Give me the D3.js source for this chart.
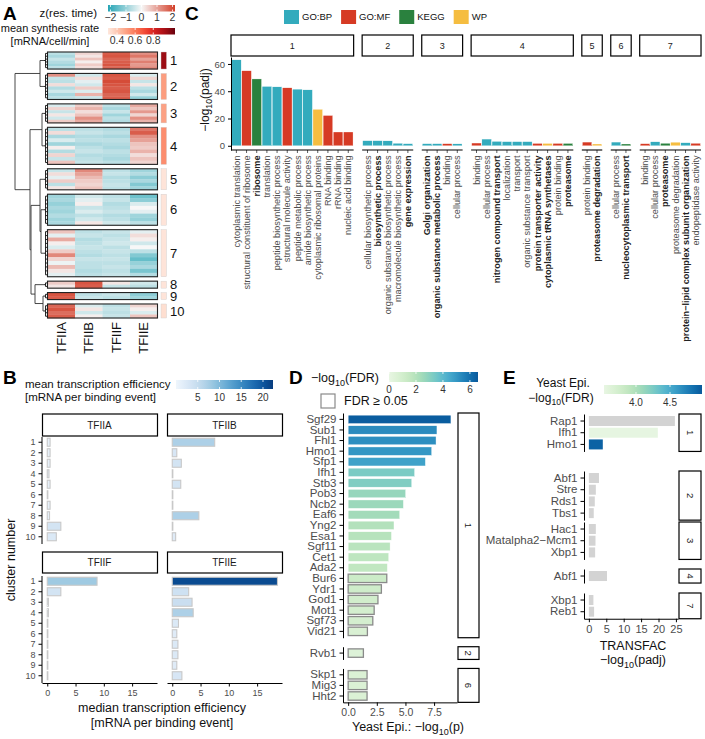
<!DOCTYPE html>
<html><head><meta charset="utf-8">
<script src="https://cdn.jsdelivr.net/npm/d3@7"></script>
<style>body{margin:0;background:#fff;} svg{font-family:"Liberation Sans",Arial,Helvetica,sans-serif;}</style>
</head><body>
<script>
// ================= DATA =================
// Panel A
const tfNames = ["TFIIA","TFIIB","TFIIF","TFIIE"];
const clusterIds = [1,2,3,4,5,6,7,8,9,10];
const clusterSize = [17,26,19,37,21,31,47,7,7,14];
const synthesisRate = [0.95,0.51,0.50,0.55,0.31,0.31,0.31,0.31,0.31,0.33];
const zCluster1 = [[-0.6,0.4,1.8,1.2],[-0.8,0.2,1.9,1.5],[-0.5,0.6,1.7,1.0],[-0.7,0.1,1.8,1.4],[-0.9,0.5,1.9,1.1],[-0.6,0.3,1.7,1.3]];
const zCluster2 = [[1.2,-0.4,1.9,-0.3],[-0.5,0.3,1.8,0.4],[-0.6,-0.2,2.0,-0.5],[0.3,-0.4,1.9,0.2],[-0.7,0.5,1.8,-0.6],[-0.4,-0.3,1.9,-0.8],[-0.8,0.8,1.7,-0.4],[-0.6,-0.5,1.8,-1.0]];
const zCluster3 = [[-0.3,0.5,-0.6,0.9],[0.4,0.8,-0.8,0.6],[-0.5,0.3,-0.5,1.1],[0.2,0.6,-0.9,0.4],[-0.4,1.2,-0.6,1.2],[0.5,0.9,-0.7,0.8]];
const zCluster4 = [[-0.6,-0.6,-0.7,1.5],[0.3,-0.5,-0.6,1.8],[-0.8,-0.7,-0.8,1.2],[-0.3,-0.6,-0.6,1.0],[-0.9,-0.8,-0.7,0.6],[0.1,-0.6,-0.8,0.5],[-0.7,-0.5,-0.6,0.8],[0.4,-0.7,-0.7,0.3],[-0.5,-0.6,-0.8,0.6],[0.6,-0.5,-0.6,0.4]];
const zCluster5 = [[-0.5,1.3,-0.6,-0.9],[0.3,1.0,-0.5,-0.7],[-0.2,0.7,-0.7,-1.1],[0.5,0.5,-0.6,-0.8],[-0.6,0.4,-0.5,-1.2],[0.2,0.6,-0.6,-0.9]];
const zCluster6 = [[-0.9,-0.4,-0.6,-1.4],[-0.8,-0.2,-0.5,-1.1],[-1.0,0.1,-0.7,-0.3],[-0.8,-0.5,-0.6,0.0],[-0.9,-0.3,-0.5,-0.2],[-0.7,-0.6,-0.7,-0.9],[-0.9,-0.4,-0.6,-1.0],[-0.8,0.2,-0.4,-0.6]];
const zCluster7 = [[0.6,-0.6,-0.5,-0.2],[-0.2,-0.5,-0.6,0.3],[0.9,-0.7,-0.5,0.1],[0.1,-0.6,-0.4,-0.4],[-0.3,-0.5,-0.6,0.0],[0.5,-0.6,-0.5,-0.6],[1.3,-0.7,-0.6,-1.2],[0.4,-0.5,-0.5,-1.5],[-0.1,-0.6,-0.6,-1.0],[0.7,-0.6,-0.5,-0.8],[0.2,-0.7,-0.6,-1.3],[-0.2,-0.6,-0.5,-0.7]];
const zCluster8 = [[0.5,1.9,0.2,-0.4],[0.2,1.8,-0.5,-0.6]];
const zCluster9 = [[1.9,-0.6,-0.5,-1.1],[1.8,-0.5,-0.6,-0.9]];
const zCluster10 = [[1.7,-0.3,-0.6,0.4],[1.9,0.2,-0.5,0.1],[1.6,-0.4,-0.6,-0.3],[1.8,0.1,-0.5,0.6]];
const zByCluster = [zCluster1,zCluster2,zCluster3,zCluster4,zCluster5,zCluster6,zCluster7,zCluster8,zCluster9,zCluster10];
// hclust-style merges: negative = cluster leaf, positive = earlier merge (1-based), third = height
const dendroMerges = [[-1,-2,4],[-3,-4,2],[-6,-7,3],[-5,3,4],[-9,-10,1],[-8,5,9],[4,6,13],[2,7,14],[1,8,29]];
const zTicks = [-2,-1,0,1,2];
const synTicks = [0.4,0.6,0.8];

// Panel B
const medianEff = [
  [0.5,0.5,0.5,0.3,0.5,0.1,0.5,0.4,2.4,1.6],
  [7.5,0.8,1.6,0.1,1.5,0.1,0.1,4.7,0.1,0.6],
  [8.8,2.4,0.2,0.2,0.1,0.1,0.1,0.1,0.1,0.1],
  [18.6,2.9,3.5,3.7,1.1,0.8,1.0,1.0,0.8,1.7]];
const meanEff = [
  [1.0,1.0,1.0,1.0,1.0,0.5,1.0,1.0,3.5,2.5],
  [7.0,3.0,3.5,0.5,3.5,0.5,0.5,7.0,0.5,2.0],
  [8.0,3.5,0.5,0.5,0.5,0.5,0.5,0.5,0.5,0.5],
  [21.0,4.0,4.5,7.0,2.5,2.0,2.5,2.5,2.0,3.0]];
const effTicks = [5,10,15,20];
const effAxisTicks = [0,5,10,15];

// Panel C
const goCluster = [1,1,1,1,1,1,1,1,1,1,1,1, 2,2,2,2,2, 3,3,3,3, 4,4,4,4,4,4,4,4,4,4, 5,5, 6,6, 7,7,7,7,7,7];
const goTerm = ["cytoplasmic translation","structural constituent of ribosome","ribosome","translation","peptide biosynthetic process","structural molecule activity","peptide metabolic process","amide biosynthetic process","cytoplasmic ribosomal proteins","RNA binding","rRNA binding","nucleic acid binding",
 "cellular biosynthetic process","biosynthetic process","organic substance biosynthetic process","macromolecule biosynthetic process","gene expression",
 "Golgi organization","organic substance metabolic process","binding","cellular process",
 "binding","cellular process","nitrogen compound transport","localization","transport","organic substance transport","protein transporter activity","cytoplasmic tRNA synthetases","protein binding","proteasome",
 "protein binding","proteasome degradation",
 "cellular process","nucleocytoplasmic transport",
 "binding","cellular process","proteasome","proteasome degradation","protein\u2212lipid complex subunit organization","endopeptidase activity"];
const goSource = ["GO:BP","GO:MF","KEGG","GO:BP","GO:BP","GO:MF","GO:BP","GO:BP","WP","GO:MF","GO:MF","GO:MF",
 "GO:BP","GO:BP","GO:BP","GO:BP","GO:BP",
 "GO:BP","GO:BP","GO:MF","GO:BP",
 "GO:MF","GO:BP","GO:BP","GO:BP","GO:BP","GO:BP","GO:MF","WP","GO:MF","KEGG",
 "GO:MF","WP",
 "GO:BP","KEGG",
 "GO:MF","GO:BP","KEGG","WP","GO:BP","GO:MF"];
const goLogPadj = [63,55,49,43.5,43.2,42.5,41.5,41,26.7,22.2,10.1,10.1,
 3.7,3.7,3.6,1.8,1.5,
 1.5,1.5,1.5,1.4,
 2.0,4.9,3.2,3.0,3.0,3.0,1.7,1.7,1.7,1.7,
 2.7,1.3,
 2.7,1.3,
 1.5,2.9,1.8,2.6,2.2,1.8];
const goBold = [0,0,1,0,0,0,0,0,0,0,0,0, 0,1,0,0,1, 1,1,0,0, 0,0,1,0,0,0,1,1,0,1, 0,1, 0,1, 0,0,1,0,1,0];
const sources = ["GO:BP","GO:MF","KEGG","WP"];
const sourceColors = ["#33abbd","#d63a24","#2a813e","#f5bd40"];
const goTicks = [0,20,40,60];

// Panel D
const epiGene = ["Sgf29","Sub1","Fhl1","Hmo1","Sfp1","Ifh1","Stb3","Pob3","Ncb2","Eaf6","Yng2","Esa1","Sgf11","Cet1","Ada2","Bur6","Ydr1","God1","Mot1","Sgf73","Vid21","Rvb1","Skp1","Mig3","Hht2"];
const epiLogP = [8.97,7.75,7.67,7.29,6.74,5.8,5.55,5.02,4.82,4.5,4.0,3.78,3.66,3.54,3.42,3.37,2.9,2.6,2.27,2.15,1.68,1.33,1.65,1.65,1.65];
const epiLogFDR = [6.5,5.3,5.2,5.0,4.7,3.3,3.2,2.7,2.6,2.4,2.0,1.9,1.8,1.7,1.6,1.25,1.15,1.05,0.95,0.9,0.7,0.5,0.6,0.6,0.6];
const epiCluster = [1,1,1,1,1,1,1,1,1,1,1,1,1,1,1,1,1,1,1,1,1,2,6,6,6];
const epiTicks = [0,2.5,5,7.5];
const fdrTicks = [0,2,4,6];

// Panel E
const tfacTF = ["Rap1","Ifh1","Hmo1","Abf1","Stre","Rds1","Tbs1","Hac1","Matalpha2\u2212Mcm1","Xbp1","Abf1","Xbp1","Reb1"];
const tfacLogPadj = [24.7,19.8,4.0,2.9,2.0,1.7,1.4,2.0,1.9,1.8,5.2,1.3,1.5];
const tfacEpiFDR = [null,3.55,4.92,null,null,null,null,null,null,null,null,null,null];
const tfacCluster = [1,1,1,2,2,2,2,3,3,3,4,7,7];
const tfacTicks = [0,5,10,15,20,25];
const tfacFdrTicks = [4.0,4.5];

// ================= DRAW =================
const G = "#4d4d4d";
const svg = d3.select("body").append("svg").attr("width",705).attr("height",739);
const defs = svg.append("defs");

function gradient(id, scale, dom){
  const lg = defs.append("linearGradient").attr("id",id).attr("x1","0%").attr("x2","100%");
  d3.range(0,1.0001,0.05).forEach(t=>{
    lg.append("stop").attr("offset",(t*100)+"%").attr("stop-color",scale(dom[0]+t*(dom[1]-dom[0])));
  });
}
function colorbar(g, id, scale, dom, x0, x1, y0, y1, ticks, fmt, fs, labY){
  gradient(id, scale, dom);
  const xs = d3.scaleLinear().domain(dom).range([x0,x1]);
  g.append("rect").attr("x",x0).attr("y",y0).attr("width",x1-x0).attr("height",y1-y0).attr("fill",`url(#${id})`);
  ticks.forEach(t=>{
    const x = xs(t);
    g.append("line").attr("x1",x).attr("x2",x).attr("y1",y0).attr("y2",y0+2).attr("stroke","#fff").attr("stroke-width",0.8);
    g.append("line").attr("x1",x).attr("x2",x).attr("y1",y1-2).attr("y2",y1).attr("stroke","#fff").attr("stroke-width",0.8);
    g.append("text").attr("x",x).attr("y",labY).attr("text-anchor","middle").attr("font-size",fs).attr("fill","#333").text(fmt(t));
  });
}
function logText(sel, prefix, suffix, fs){
  sel.append("tspan").text(prefix+"\u2212log");
  sel.append("tspan").attr("font-size",fs*0.72).attr("dy",fs*0.28).text("10");
  sel.append("tspan").attr("dy",-fs*0.28).text(suffix);
}
function panelLetter(x,y,t){
  svg.append("text").attr("x",x).attr("y",y).attr("font-size",19).attr("font-weight","bold").attr("fill","#000").text(t);
}

// ---------- Panel A ----------
const gA = svg.append("g");
const hx = d3.scaleBand().domain(tfNames).range([47.5,157.5]);
const gapA = 4.4, topA = 52, botA = 318;
const hy = d3.scaleLinear().domain([0,d3.sum(clusterSize)]).range([0, botA-topA-gapA*(clusterSize.length-1)]);
const cum = d3.cumsum(clusterSize);
const cTop = clusterSize.map((s,i)=>topA + hy(cum[i]-s) + i*gapA);
const cH = clusterSize.map(s=>hy(s));
const zColor = d3.scaleLinear().domain([-2.2,0,2.2]).range(["#22a3b4","#f7f7f7","#d23b25"]).clamp(true);
const synColor = d3.scaleSequential(t=>d3.interpolateReds(0.08+0.92*t)).domain([0.3,1.04]);

zByCluster.forEach((rows,ci)=>{
  const rh = cH[ci]/rows.length;
  rows.forEach((row,ri)=>{
    row.forEach((z,ti)=>{
      gA.append("rect").attr("x",hx(tfNames[ti])).attr("y",cTop[ci]+ri*rh)
        .attr("width",hx.bandwidth()+0.3).attr("height",rh+0.3).attr("fill",zColor(z));
    });
  });
  gA.append("rect").attr("x",hx.range()[0]).attr("y",cTop[ci]).attr("width",hx.range()[1]-hx.range()[0]).attr("height",cH[ci])
    .attr("fill","none").attr("stroke","#222").attr("stroke-width",1.1);
  gA.append("rect").attr("x",161).attr("y",cTop[ci]).attr("width",5.5).attr("height",cH[ci])
    .attr("fill",synColor(synthesisRate[ci])).attr("stroke","#ccc").attr("stroke-width",0.4);
  gA.append("text").attr("x",170).attr("y",cTop[ci]+cH[ci]/2).attr("dy","0.36em").attr("font-size",13).attr("fill","#111").text(clusterIds[ci]);
  // inner dendrogram comb
  const rc = rows.map((r,ri)=>cTop[ci]+(ri+0.5)*rh);
  const comb = d3.path();
  comb.moveTo(44,cTop[ci]+cH[ci]/2); comb.lineTo(45.5,cTop[ci]+cH[ci]/2);
  comb.moveTo(45.5,rc[0]); comb.lineTo(45.5,rc[rc.length-1]);
  rc.forEach(y=>{comb.moveTo(45.5,y); comb.lineTo(47.5,y);});
  gA.append("path").attr("d",comb.toString()).attr("stroke","#111").attr("stroke-width",0.9).attr("fill","none");
});
// cluster dendrogram
const dxs = d3.scaleLinear().domain([0,29]).range([44,15]);
const leafY = cTop.map((t,i)=>t+cH[i]/2);
const nodeX = [], nodeY = [];
const pos = r => r<0 ? {x:dxs(0), y:leafY[-r-1]} : {x:nodeX[r-1], y:nodeY[r-1]};
const dp = d3.path();
dendroMerges.forEach(([a,b,h],i)=>{
  const pa = pos(a), pb = pos(b), x = dxs(h);
  nodeX[i] = x; nodeY[i] = (pa.y+pb.y)/2;
  dp.moveTo(pa.x,pa.y); dp.lineTo(x,pa.y); dp.lineTo(x,pb.y); dp.lineTo(pb.x,pb.y);
});
gA.append("path").attr("d",dp.toString()).attr("stroke","#333").attr("stroke-width",0.9).attr("fill","none");
// column labels
tfNames.forEach(t=>{
  gA.append("text").attr("transform",`translate(${hx(t)+hx.bandwidth()/2},322) rotate(-90)`)
    .attr("text-anchor","end").attr("dy","0.36em").attr("font-size",13).attr("fill","#111").text(t);
});
// legends A
gA.append("text").attr("x",97).attr("y",17).attr("text-anchor","end").attr("font-size",11.5).attr("fill","#111").text("z(res. time)");
colorbar(gA,"gz",zColor,[-2.16,2.16],108,175,5,11.5,zTicks,d=>d3.format("")(d).replace("-","\u2212"),10.5,21);
gA.append("text").attr("x",50).attr("y",32).attr("text-anchor","middle").attr("font-size",11).attr("fill","#111").text("mean synthesis rate");
gA.append("text").attr("x",50).attr("y",45).attr("text-anchor","middle").attr("font-size",11).attr("fill","#111").text("[mRNA/cell/min]");
colorbar(gA,"gs",synColor,[0.3,1.04],108,175,28,34.5,synTicks,d3.format(".1f"),10.5,44);
panelLetter(3,20,"A");

// ---------- Panel B ----------
const gB = svg.append("g");
const bBlue = d3.scaleSequential(t=>d3.interpolateBlues(0.04+0.91*t)).domain([0,22.3]);
const bFacets = [
  {ti:0,x0:42,x1:157,py0:437,sy0:414,sy1:436,yAxis:true,xAxis:false},
  {ti:1,x0:167,x1:282,py0:437,sy0:414,sy1:436,yAxis:false,xAxis:false},
  {ti:2,x0:42,x1:157,py0:576,sy0:552,sy1:573,yAxis:true,xAxis:true},
  {ti:3,x0:167,x1:282,py0:576,sy0:552,sy1:573,yAxis:false,xAxis:true}];
bFacets.forEach(f=>{
  const xs = d3.scaleLinear().domain([-0.93,19.4]).range([f.x0,f.x1]);
  const ys = d3.scaleBand().domain(clusterIds).range([f.py0,f.py0+105]);
  gB.append("rect").attr("x",f.x0+0.5).attr("y",f.sy0).attr("width",f.x1-f.x0).attr("height",f.sy1-f.sy0)
    .attr("fill","#fff").attr("stroke","#000").attr("stroke-width",1.2);
  gB.append("text").attr("x",(f.x0+f.x1)/2).attr("y",(f.sy0+f.sy1)/2).attr("dy","0.36em").attr("text-anchor","middle")
    .attr("font-size",10).attr("fill","#1a1a1a").text(tfNames[f.ti]);
  clusterIds.forEach((c,i)=>{
    const v = medianEff[f.ti][i];
    gB.append("rect").attr("x",xs(0)).attr("y",ys(c)+ys.bandwidth()/2-4).attr("width",Math.max(0,xs(v)-xs(0))).attr("height",8)
      .attr("fill",bBlue(meanEff[f.ti][i])).attr("stroke","#c8c8c8").attr("stroke-width",1.1);
  });
  if(f.yAxis){
    const ax = gB.append("g").attr("transform",`translate(${f.x0},0)`).call(d3.axisLeft(ys).tickSize(3.5).tickSizeOuter(0));
    ax.attr("font-family",null).attr("font-size",9);
    ax.selectAll("text").attr("fill",G);
    ax.select(".domain").attr("d",`M0,${f.py0}V${f.py0+107}`).attr("stroke","#000");
  }
  if(f.xAxis){
    const ax = gB.append("g").attr("transform",`translate(0,${f.py0+107})`).call(d3.axisBottom(xs).tickValues(effAxisTicks).tickSize(3.5).tickSizeOuter(0));
    ax.attr("font-family",null).attr("font-size",9);
    ax.selectAll("text").attr("fill",G);
    ax.select(".domain").attr("stroke","#000");
  }
});
gB.append("text").attr("transform","translate(15,560) rotate(-90)").attr("text-anchor","middle").attr("font-size",12.5).attr("fill","#111").text("cluster number");
gB.append("text").attr("x",162).attr("y",712).attr("text-anchor","middle").attr("font-size",12.5).attr("fill","#111").text("median transcription efficiency");
gB.append("text").attr("x",162).attr("y",727).attr("text-anchor","middle").attr("font-size",12.5).attr("fill","#111").text("[mRNA per binding event]");
gB.append("text").attr("x",25).attr("y",388).attr("font-size",11.5).attr("fill","#111").text("mean transcription efficiency");
gB.append("text").attr("x",25).attr("y",401).attr("font-size",11.5).attr("fill","#111").text("[mRNA per binding event]");
colorbar(gB,"gb",bBlue,[0,22.3],176,273,380,389,effTicks,d3.format(""),10,401);
panelLetter(3,384,"B");

// ---------- Panel C ----------
const gC = svg.append("g");
const srcColor = d3.scaleOrdinal().domain(sources).range(sourceColors);
const cy = d3.scaleLinear().domain([-3.1,65.1]).range([150,57]);
const cStep = 10.22, cGap = 8.5;
const cClusters = Array.from(new Set(goCluster));
let cx0 = 231;
cClusters.forEach(cl=>{
  const idx = goCluster.map((c,i)=>c===cl?i:-1).filter(i=>i>=0);
  const w = idx.length*cStep;
  const xs = d3.scaleBand().domain(idx).range([cx0,cx0+w]).padding(0.06);
  gC.append("rect").attr("x",cx0).attr("y",35).attr("width",w).attr("height",21).attr("fill","#fff").attr("stroke","#000").attr("stroke-width",1.2);
  gC.append("text").attr("x",cx0+w/2).attr("y",45.5).attr("dy","0.36em").attr("text-anchor","middle").attr("font-size",9).attr("fill","#1a1a1a").text(cl);
  idx.forEach(i=>{
    gC.append("rect").attr("x",xs(i)).attr("y",cy(goLogPadj[i])).attr("width",xs.bandwidth()).attr("height",cy(0)-cy(goLogPadj[i]))
      .attr("fill",srcColor(goSource[i])).attr("stroke","#fff").attr("stroke-width",0.3);
    const cxm = xs(i)+xs.bandwidth()/2;
    gC.append("line").attr("x1",cxm).attr("x2",cxm).attr("y1",150).attr("y2",153).attr("stroke","#333").attr("stroke-width",0.8);
    gC.append("text").attr("transform",`translate(${cxm},155.5) rotate(-90)`).attr("text-anchor","end").attr("dy","0.35em")
      .attr("font-size",9.1).attr("font-weight",goBold[i]?"bold":null).attr("fill",goBold[i]?"#222":G).text(goTerm[i]);
  });
  gC.append("line").attr("x1",cx0).attr("x2",cx0+w).attr("y1",150).attr("y2",150).attr("stroke","#000").attr("stroke-width",1.1);
  cx0 += w + cGap;
});
{
  const ax = gC.append("g").attr("transform","translate(231,0)").call(d3.axisLeft(cy).tickValues(goTicks).tickSize(3).tickSizeOuter(0));
  ax.attr("font-family",null).attr("font-size",9.5);
  ax.selectAll("text").attr("fill",G);
  ax.select(".domain").attr("stroke","#000");
}
logText(gC.append("text").attr("transform","translate(209,100) rotate(-90)").attr("text-anchor","middle").attr("font-size",12).attr("fill","#111"),"","(padj)",12);
{
  let lx = 284;
  sources.forEach(s=>{
    gC.append("rect").attr("x",lx).attr("y",10).attr("width",15).attr("height",14).attr("fill",srcColor(s));
    const t = gC.append("text").attr("x",lx+18).attr("y",17).attr("dy","0.36em").attr("font-size",9.5).attr("fill","#111").text(s);
    lx += 18 + t.node().getComputedTextLength() + 9;
  });
}
panelLetter(185,20,"C");

// ---------- Panel D ----------
const gD = svg.append("g");
const gnbu = t=>d3.interpolateGnBu(0.08+0.84*Math.max(0,Math.min(1,t)));
const dFill = d3.scaleSequential(gnbu).domain([0,6.6]);
const dx = d3.scaleLinear().domain([-0.45,9.5]).range([343,457]);
const dU = 10.6, dGap = 9;
let dy0 = 413;
const dClusters = Array.from(new Set(epiCluster));
dClusters.forEach((cl,k)=>{
  const idx = epiCluster.map((c,i)=>c===cl?i:-1).filter(i=>i>=0);
  const h = (idx.length+0.2)*dU;
  const ys = d3.scaleBand().domain(idx).range([dy0,dy0+h]).paddingOuter(0.1).paddingInner(0);
  idx.forEach(i=>{
    const sig = epiLogFDR[i] > 1.301;
    gD.append("rect").attr("x",dx(0)).attr("y",ys(i)+ys.bandwidth()/2-4.2).attr("width",dx(epiLogP[i])-dx(0)).attr("height",8.4)
      .attr("fill",dFill(epiLogFDR[i])).attr("stroke",sig?"#fff":"#8a8a8a").attr("stroke-width",sig?0.4:1.3);
  });
  const ax = gD.append("g").attr("transform","translate(343,0)").call(d3.axisLeft(ys).tickSize(3.5).tickSizeOuter(0).tickFormat(i=>epiGene[i]));
  ax.attr("font-family",null).attr("font-size",11.5);
  ax.selectAll("text").attr("fill",G);
  ax.select(".domain").attr("stroke","#000");
  gD.append("rect").attr("x",458).attr("y",dy0).attr("width",21).attr("height",h).attr("fill","#fff").attr("stroke","#000").attr("stroke-width",1.2);
  gD.append("text").attr("transform",`translate(468.5,${dy0+h/2}) rotate(90)`).attr("text-anchor","middle").attr("dy","0.36em").attr("font-size",9.5).attr("fill","#1a1a1a").text(cl);
  dy0 += h + (k<dClusters.length-1?dGap:0);
});
{
  const ax = gD.append("g").attr("transform",`translate(0,${dy0})`).call(d3.axisBottom(dx).tickValues(epiTicks).tickSize(3.5).tickSizeOuter(0).tickFormat(d3.format(".1f")));
  ax.attr("font-family",null).attr("font-size",10.5);
  ax.selectAll("text").attr("fill",G);
  ax.select(".domain").attr("stroke","#000");
}
{
  const t = gD.append("text").attr("x",408).attr("y",731).attr("text-anchor","middle").attr("font-size",12.5).attr("fill","#111");
  logText(t,"Yeast Epi.: ","(p)",12.5);
}
logText(gD.append("text").attr("x",311).attr("y",382).attr("font-size",12.5).attr("fill","#111"),"","(FDR)",12.5);
colorbar(gD,"gd",dFill,[0,6.6],389,478,372,382,fdrTicks,d3.format(""),10,393);
gD.append("rect").attr("x",321).attr("y",394).attr("width",14).attr("height",14).attr("fill","#fff").attr("stroke","#8a8a8a").attr("stroke-width",1.2);
gD.append("text").attr("x",344).attr("y",405).attr("font-size",12.5).attr("fill","#111").text("FDR \u2265 0.05");
panelLetter(289,384,"D");

// ---------- Panel E ----------
const gE = svg.append("g");
const eFill = d3.scaleSequential(gnbu).domain([3.53,4.97]);
const ex = d3.scaleLinear().domain([-1.4,25.6]).range([584,678]);
const eClusters = Array.from(new Set(tfacCluster));
const eU = 11.7;
const ePanelTop = [414,471,522,569,593];
let eBottom = 0;
eClusters.forEach((cl,k)=>{
  const idx = tfacCluster.map((c,i)=>c===cl?i:-1).filter(i=>i>=0);
  const ey0 = ePanelTop[k];
  const h = (idx.length+0.2)*eU;
  const ys = d3.scaleBand().domain(idx).range([ey0,ey0+h]).paddingOuter(0.1).paddingInner(0);
  idx.forEach(i=>{
    const f = tfacEpiFDR[i];
    gE.append("rect").attr("x",ex(0)).attr("y",ys(i)+ys.bandwidth()/2-5).attr("width",ex(tfacLogPadj[i])-ex(0)).attr("height",10)
      .attr("fill",f==null?"#d3d3d3":eFill(f));
  });
  const ax = gE.append("g").attr("transform","translate(584,0)").call(d3.axisLeft(ys).tickSize(3.5).tickSizeOuter(0).tickFormat(i=>tfacTF[i]));
  ax.attr("font-family",null).attr("font-size",11.5);
  ax.selectAll("text").attr("fill",G);
  ax.select(".domain").attr("stroke","#000");
  gE.append("rect").attr("x",679).attr("y",ey0).attr("width",22).attr("height",h).attr("fill","#fff").attr("stroke","#000").attr("stroke-width",1.2);
  gE.append("text").attr("transform",`translate(690,${ey0+h/2}) rotate(90)`).attr("text-anchor","middle").attr("dy","0.36em").attr("font-size",9.5).attr("fill","#1a1a1a").text(cl);
  eBottom = ey0 + h;
});
{
  const ax = gE.append("g").attr("transform",`translate(0,${eBottom})`).call(d3.axisBottom(ex).tickValues(tfacTicks).tickSize(3.5).tickSizeOuter(0));
  ax.attr("font-family",null).attr("font-size",11);
  ax.selectAll("text").attr("fill",G);
  ax.select(".domain").attr("stroke","#000");
}
gE.append("text").attr("x",633).attr("y",650).attr("text-anchor","middle").attr("font-size",12.5).attr("fill","#111").text("TRANSFAC");
logText(gE.append("text").attr("x",633).attr("y",664).attr("text-anchor","middle").attr("font-size",12.5).attr("fill","#111"),"","(padj)",12.5);
gE.append("text").attr("x",563).attr("y",387).attr("text-anchor","middle").attr("font-size",12).attr("fill","#111").text("Yeast Epi.");
logText(gE.append("text").attr("x",561).attr("y",402).attr("text-anchor","middle").attr("font-size",12).attr("fill","#111"),"","(FDR)",12);
colorbar(gE,"ge",eFill,[3.53,4.97],604,702,385,394,tfacFdrTicks,d3.format(".1f"),10,406);
panelLetter(503,384,"E");
</script></body></html>
